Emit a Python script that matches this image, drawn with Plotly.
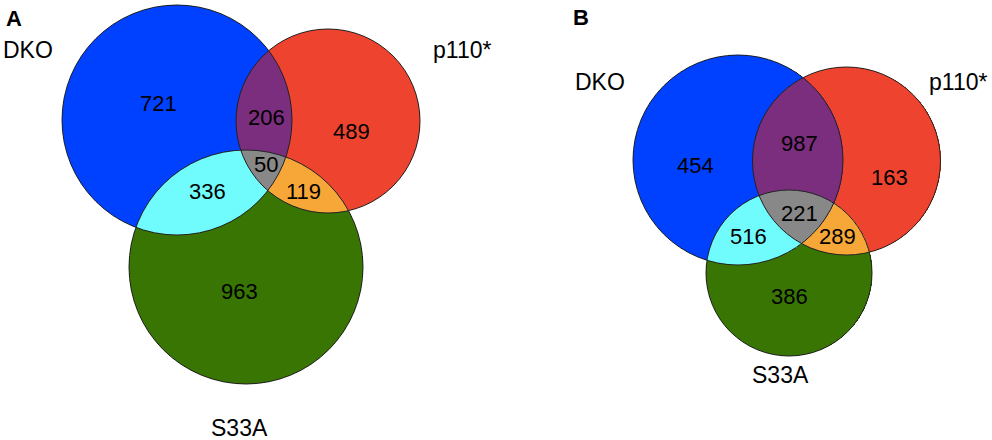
import numpy as np
import plotly.graph_objects as go

# set names and overlap counts
sets = ["DKO", "p110*", "S33A"]
regions = ["DKO", "p110*", "DKO&p110*", "S33A", "DKO&S33A", "p110*&S33A", "all"]
counts_a = [721, 489, 206, 963, 336, 119, 50]
counts_b = [454, 163, 987, 386, 516, 289, 221]

# region colours (code = 1*DKO + 2*p110* + 4*S33A)
region_colors = ["#0041ff", "#ee442f", "#7b2d7e", "#387503", "#70fbfd", "#f6a738", "#888888"]

# layout of the two panels, in page pixels
panels = [
    dict(letter="A", letter_xy=(14, 18), counts=counts_a,
         circles=[(177, 120, 115), (328, 121, 92), (246, 267, 117)],
         set_xy=[(28, 50), (462, 50), (239, 428)],
         count_xy=[(158, 103), (351, 131), (266, 117), (239, 291), (207, 191), (303, 191), (266, 164)]),
    dict(letter="B", letter_xy=(581, 17), counts=counts_b,
         circles=[(738, 160, 105), (846.5, 161, 94), (789, 273, 83)],
         set_xy=[(600, 82), (958, 82), (780, 375)],
         count_xy=[(695, 165), (889, 177), (799, 143), (789, 296), (748, 236), (837, 236), (799, 213)]),
]

cs = []
for i, c in enumerate(region_colors):
    cs.append([i / 7, c])
    cs.append([(i + 1) / 7, c])

fig = go.Figure()
for p in panels:
    circ = p["circles"]
    x0 = min(cx - r for cx, cy, r in circ) - 2
    x1 = max(cx + r for cx, cy, r in circ) + 2
    y0 = min(cy - r for cx, cy, r in circ) - 2
    y1 = max(cy + r for cx, cy, r in circ) + 2
    xs = np.arange(x0, x1, 0.5)
    ys = np.arange(y0, y1, 0.5)
    X, Y = np.meshgrid(xs, ys)
    code = np.zeros(X.shape)
    for k, (cx, cy, r) in enumerate(circ):
        code += ((X - cx) ** 2 + (Y - cy) ** 2 <= r * r) * (2 ** k)
    z = np.where(code > 0, code, np.nan)
    fig.add_trace(go.Heatmap(x=xs, y=ys, z=z, zmin=0.5, zmax=7.5, colorscale=cs,
                             showscale=False, hoverinfo="skip"))
    for cx, cy, r in circ:
        fig.add_shape(type="circle", x0=cx - r, x1=cx + r, y0=cy - r, y1=cy + r,
                      line=dict(color="#222222", width=1))
    fig.add_annotation(x=p["letter_xy"][0], y=p["letter_xy"][1], text="<b>" + p["letter"] + "</b>",
                       showarrow=False, font=dict(size=22, color="black"))
    for name, (tx, ty) in zip(sets, p["set_xy"]):
        fig.add_annotation(x=tx, y=ty, text=name, showarrow=False,
                           font=dict(size=23, color="black"))
    for n, (tx, ty) in zip(p["counts"], p["count_xy"]):
        fig.add_annotation(x=tx, y=ty, text=str(n), showarrow=False,
                           font=dict(size=22, color="black"))

fig.update_layout(
    width=992, height=440, margin=dict(l=0, r=0, t=0, b=0),
    paper_bgcolor="white", plot_bgcolor="white",
    font=dict(family="Liberation Sans, Arial, sans-serif"),
    xaxis=dict(range=[0, 992], visible=False, fixedrange=True),
    yaxis=dict(range=[440, 0], visible=False, fixedrange=True),
)
fig.write_html("out.html", config={"displayModeBar": False},
               post_script="document.body.style.margin='0';")
